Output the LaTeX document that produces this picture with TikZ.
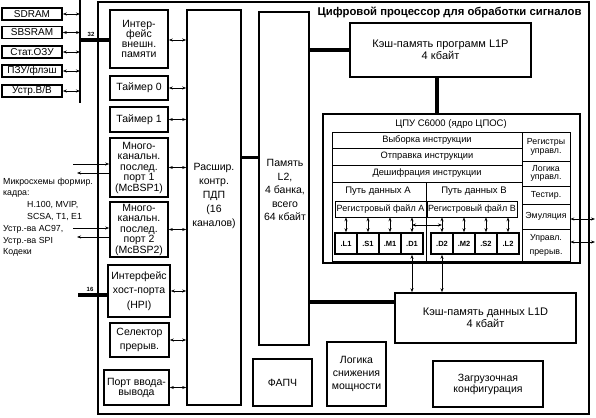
\documentclass[tikz,border=0pt]{standalone}
\usepackage{fontspec}
\setmainfont{Liberation Sans}
\usetikzlibrary{arrows.meta}

\begin{document}
\begin{tikzpicture}[x=1pt, y=-1pt,
    every node/.style={inner sep=0pt, align=center, font=\fontsize{10.5}{10.5}\selectfont},
    blok/.style 2 args={draw, line width=1.6pt, minimum width=#1, minimum height=#2},
    cell/.style 2 args={draw, line width=0.6pt, minimum width=#1, minimum height=#2, font=\fontsize{8.8}{9}\selectfont},
    fu/.style={draw, line width=1.6pt, minimum width=22, minimum height=21, font=\bfseries\fontsize{7.5}{8}\selectfont},
    mem/.style={blok={60}{12}, font=\fontsize{10}{10}\selectfont},
    dbl/.style={{Stealth[length=4pt,width=3pt]}-{Stealth[length=4pt,width=3pt]}, line width=0.7pt},
    arr/.style={-{Stealth[length=4pt,width=3pt]}, line width=0.7pt},
    bus/.style={line width=3.5pt}]
  \useasboundingbox (0,0) rectangle (596,417);

  % chip
  \node[blok={491}{412}, line width=2pt] (chip) at (343.5,208) {};
  \node[font=\bfseries\fontsize{11.3}{11}\selectfont] (title) at (449.5,12) {Цифровой процессор для обработки сигналов};

  % external memory
  \node[mem] (sdram) at (32,14) {SDRAM};
  \node[mem] (sbsram) at (32,32.5) {SBSRAM};
  \node[mem] (sram) at (32,52) {Стат.ОЗУ};
  \node[mem] (rom) at (32,71) {ПЗУ/флэш};
  \node[mem] (iodev) at (32,91) {Устр.В/В};
  \coordinate (bt) at (80,0);
  \coordinate (bb) at (80,103);
  \draw[line width=2pt] (bt) -- (bb);
  \draw[dbl] (sdram.east) -- (sdram.east -| bt);
  \draw[dbl] (sbsram.east) -- (sbsram.east -| bt);
  \draw[dbl] (sram.east) -- (sram.east -| bt);
  \draw[dbl] (rom.east) -- (rom.east -| bt);
  \draw[dbl] (iodev.east) -- (iodev.east -| bt);

  % peripherals
  \node[blok={58}{58}, font=\fontsize{10.5}{10}\selectfont] (ifc) at (139,39) {Интер-\\фейс\\внешн.\\памяти};
  \node[blok={58}{24}] (tmr0) at (139,88) {Таймер 0};
  \node[blok={58}{25}] (tmr1) at (139,119.5) {Таймер 1};
  \node[blok={58}{59}] (bsp1) at (139,167.5) {Много-\\канальн.\\послед.\\порт 1\\(McBSP1)};
  \node[blok={58}{55}] (bsp2) at (139,229.5) {Много-\\канальн.\\послед.\\порт 2\\(McBSP2)};
  \node[blok={62}{52}, font=\fontsize{10.5}{14.5}\selectfont] (hpi) at (139,291) {Интерфейс\\хост-порта\\(HPI)};
  \node[blok={59}{34}, font=\fontsize{10.5}{14}\selectfont] (sel) at (139.5,340) {Селектор\\прерыв.};
  \node[blok={65}{35}, font=\fontsize{10.5}{10}\selectfont] (io) at (136.5,387.5) {Порт ввода-\\вывода};

  \coordinate (b32) at (80,40);
  \draw[bus] (b32) -- (b32 -| ifc.west);
  \node[font=\bfseries\fontsize{6}{6}\selectfont] (n32) at (91,34) {32};
  \coordinate (b16) at (78,295);
  \draw[bus] (b16) -- (b16 -| hpi.west);
  \node[font=\bfseries\fontsize{6}{6}\selectfont] (n16) at (90,289) {16};

  \coordinate (m1i) at (73,164);
  \coordinate (m1o) at (77,173);
  \coordinate (m2i) at (73,228);
  \coordinate (m2o) at (77,237);
  \draw[arr] (m1i) -- (m1i -| bsp1.west);
  \draw[arr] (m1o -| bsp1.west) -- (m1o);
  \draw[arr] (m2i) -- (m2i -| bsp2.west);
  \draw[arr] (m2o -| bsp2.west) -- (m2o);
  \node[anchor=north west, align=left, font=\fontsize{8.8}{11.8}\selectfont] (codecs) at (3,177.5)
    {Микросхемы формир.\\кадра:\\\hspace*{24pt}H.100, MVIP,\\\hspace*{24pt}SCSA, T1, E1\\Устр.-ва AC97,\\Устр.-ва SPI\\Кодеки};

  % DMA and L2
  \node[blok={54}{395}] (dma) at (214,207.5) {};
  \node[font=\fontsize{10.5}{14}\selectfont] (dmat) at (214,196) {Расшир.\\контр.\\ПДП\\(16\\каналов)};
  \node[blok={50}{333}] (l2) at (284,178.5) {};
  \node[font=\fontsize{10.5}{13.5}\selectfont] (l2t) at (285,190) {Память\\L2,\\4 банка,\\всего\\64 кбайт};

  \draw[dbl] (ifc.east |- b32) -- (b32 -| dma.west);
  \draw[dbl] (tmr0.east) -- (tmr0.east -| dma.west);
  \draw[dbl] (tmr1.east) -- (tmr1.east -| dma.west);
  \draw[dbl] (bsp1.east) -- (bsp1.east -| dma.west);
  \draw[dbl] (bsp2.east) -- (bsp2.east -| dma.west);
  \draw[dbl] (hpi.east) -- (hpi.east -| dma.west);
  \draw[dbl] (sel.east) -- (sel.east -| dma.west);
  \draw[dbl] (io.east) -- (io.east -| dma.west);

  \coordinate (dl) at (241,157);
  \draw[line width=3pt] (dma.east |- dl) -- (dl -| l2.west);

  % caches
  \node[blok={181}{54}, font=\fontsize{11}{12}\selectfont] (l1p) at (440.5,50) {Кэш-память программ L1P\\4 кбайт};
  \node[blok={181}{50}, font=\fontsize{11}{12}\selectfont] (l1d) at (485.5,318) {Кэш-память данных L1D\\4 кбайт};
  \draw[bus] (l2.east |- l1p.west) -- (l1p.west);
  \coordinate (c2d) at (309,302);
  \draw[bus] (l2.east |- c2d) -- (l1d.west |- c2d);

  % CPU core
  \node[blok={257}{149}, line width=2.5pt] (cpu) at (451.5,188.5) {};
  \node[font=\fontsize{9.5}{9}\selectfont] (cput) at (451,124) {ЦПУ C6000 (ядро ЦПОС)};
  \coordinate (c1p) at (437,77);
  \draw[bus] (l1p.south -| c1p) -- (cpu.north -| c1p);
  \node[draw, line width=0.6pt, minimum width=238, minimum height=129] (cpuin) at (451,196.5) {};
  \node[cell={190}{16}, font=\fontsize{9.3}{9}\selectfont] (fetch) at (427,140) {Выборка инструкции};
  \node[cell={190}{17}, font=\fontsize{9.3}{9}\selectfont] (disp) at (427,156.5) {Отправка инструкции};
  \node[cell={190}{17}, font=\fontsize{9.3}{9}\selectfont] (dec) at (427,173.5) {Дешифрация инструкции};
  \node[cell={48}{29}] (creg) at (546,146.5) {Регистры\\управл.};
  \node[cell={48}{25}, font=\fontsize{8.8}{7.5}\selectfont] (clog) at (546,173.5) {Логика\\управл.};
  \node[cell={48}{18}] (test) at (546,195) {Тестир.};
  \node[cell={48}{25}] (emu) at (546,216.5) {Эмуляция};
  \node[cell={48}{32}, font=\fontsize{8.8}{14}\selectfont] (intc) at (546,245) {Управл.\\прерыв.};

  \node[font=\fontsize{9.5}{9}\selectfont] (pa) at (378,191) {Путь данных А};
  \node[font=\fontsize{9.5}{9}\selectfont] (pb) at (474,191) {Путь данных В};
  \node[cell={91}{16}, font=\fontsize{9}{9}\selectfont] (rfa) at (380.5,209) {Регистровый файл А};
  \node[cell={90}{16}, font=\fontsize{9}{9}\selectfont] (rfb) at (472,209) {Регистровый файл В};
  \draw[line width=0.6pt] (dec.south -| rfa.east) -- (rfa.east |- cpuin.south);

  \node[fu] (ul1) at (346,243.5) {.L1};
  \node[fu] (us1) at (368,243.5) {.S1};
  \node[fu] (um1) at (390,243.5) {.M1};
  \node[fu] (ud1) at (412,243.5) {.D1};
  \node[fu] (ud2) at (442,243.5) {.D2};
  \node[fu] (um2) at (464,243.5) {.M2};
  \node[fu] (us2) at (486,243.5) {.S2};
  \node[fu] (ul2) at (508,243.5) {.L2};
  \draw[dbl] (ul1.north) -- (ul1.north |- rfa.south);
  \draw[dbl] (us1.north) -- (us1.north |- rfa.south);
  \draw[dbl] (um1.north) -- (um1.north |- rfa.south);
  \draw[dbl] (ud1.north) -- (ud1.north |- rfa.south);
  \draw[dbl] (ud2.north) -- (ud2.north |- rfb.south);
  \draw[dbl] (um2.north) -- (um2.north |- rfb.south);
  \draw[dbl] (us2.north) -- (us2.north |- rfb.south);
  \draw[dbl] (ul2.north) -- (ul2.north |- rfb.south);
  \coordinate (xd) at (412,225);
  \draw[dbl] (xd) -- (xd -| ud2.north);
  \draw[dbl] (ud1.south) -- (ud1.south |- l1d.north);
  \draw[dbl] (ud2.south) -- (ud2.south |- l1d.north);

  \coordinate (emuo) at (595,219);
  \coordinate (intco) at (595,242);
  \draw[dbl] (emuo -| emu.east) -- (emuo);
  \draw[dbl] (intco -| intc.east) -- (intco);

  % misc
  \node[blok={59}{47}] (pll) at (282.5,382.5) {ФАПЧ};
  \node[blok={59}{64}, font=\fontsize{10.5}{13}\selectfont] (pwr) at (356.5,374) {Логика\\снижения\\мощности};
  \node[blok={110}{46}, font=\fontsize{10.5}{11}\selectfont] (boot) at (488,384) {Загрузочная\\конфигурация};
\end{tikzpicture}
\end{document}
